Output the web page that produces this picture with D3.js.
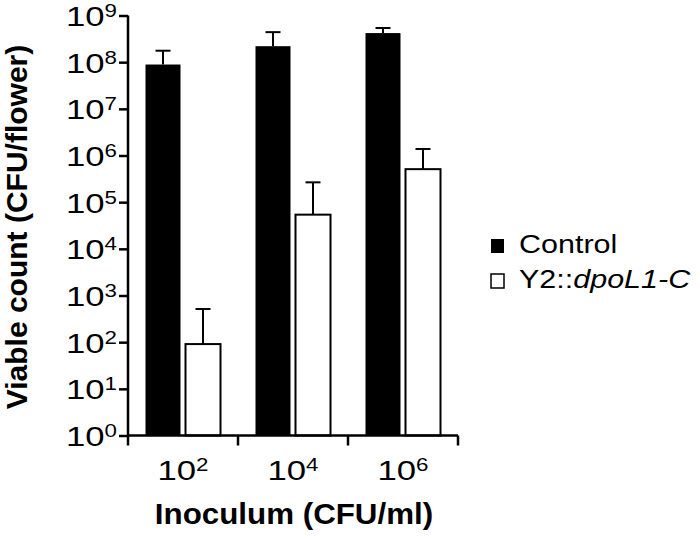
<!DOCTYPE html>
<html><head><meta charset="utf-8">
<script src="https://cdn.jsdelivr.net/npm/d3@7"></script>
<style>
body{margin:0;background:#fff;}
text{font-family:"Liberation Sans",Arial,sans-serif;}
</style></head>
<body>
<svg id="chart" width="700" height="538"></svg>
<script>
const categories = ["2", "4", "6"];           // inoculum exponent labels 10^2,10^4,10^6
const series = ["Control", "Y2::dpoL1-C"];
const controlMean = [8.9e7, 2.2e8, 4.2e8];
const controlErrTop = [1.76e8, 4.4e8, 5.4e8];
const mutantMean = [91, 5.4e4, 5.1e5];
const mutantErrTop = [513, 2.66e5, 1.38e6];
const yTickExponents = [0,1,2,3,4,5,6,7,8,9];

(function(){
const svg = d3.select("#chart");
const mLeft = 128, mRight = 458, mTop = 15.5, mBottom = 435.5;
const stretch = 1.24;

const y = d3.scaleLog().domain([1, 1e9]).range([mBottom, mTop]);
const x = d3.scaleBand().domain(categories).range([mLeft, mRight]).padding(0);
const xs = d3.scaleBand().domain(series).range([0, x.bandwidth()]).paddingInner(0.125).paddingOuter(0.4375);

const data = categories.map((c, i) => [
  {cat: c, s: series[0], v: controlMean[i], e: controlErrTop[i]},
  {cat: c, s: series[1], v: mutantMean[i], e: mutantErrTop[i]}
]).flat();

// bars
svg.append("g").selectAll("rect").data(data).join("rect")
  .attr("x", d => x(d.cat) + xs(d.s))
  .attr("y", d => y(d.v))
  .attr("width", xs.bandwidth())
  .attr("height", d => y(1) - y(d.v))
  .attr("fill", d => d.s === series[0] ? "#000" : "#fff")
  .attr("stroke", "#000")
  .attr("stroke-width", d => d.s === series[0] ? 0 : 2);

// error bars
const eb = svg.append("g").attr("stroke", "#000").attr("stroke-width", 2);
eb.selectAll("line.v").data(data).join("line").attr("class","v")
  .attr("x1", d => x(d.cat) + xs(d.s) + xs.bandwidth()/2)
  .attr("x2", d => x(d.cat) + xs(d.s) + xs.bandwidth()/2)
  .attr("y1", d => y(d.v)).attr("y2", d => y(d.e));
eb.selectAll("line.c").data(data).join("line").attr("class","c")
  .attr("x1", d => x(d.cat) + xs(d.s) + xs.bandwidth()/2 - 7.5)
  .attr("x2", d => x(d.cat) + xs(d.s) + xs.bandwidth()/2 + 7.5)
  .attr("y1", d => y(d.e)).attr("y2", d => y(d.e));

// y axis
const yAxis = svg.append("g").attr("transform", `translate(${mLeft},0)`)
  .call(d3.axisLeft(y).tickValues(yTickExponents.map(e => Math.pow(10, e))).tickSize(9).tickPadding(10).tickFormat(""));
yAxis.select(".domain").attr("stroke-width", 2.5).attr("d", `M0,${mTop}V${mBottom}`);
yAxis.selectAll(".tick line").attr("stroke-width", 2.5);
yAxis.selectAll(".tick").each(function(d) {
  const t = d3.select(this).append("g").attr("transform", `translate(-11,10) scale(${stretch},1)`)
    .append("text").attr("fill", "#000").attr("font-size", 28).attr("text-anchor", "end");
  t.append("tspan").text("10");
  t.append("tspan").attr("font-size", 18).attr("dy", -9).text(Math.round(Math.log10(d)));
});

// x axis
const xAxis = svg.append("g").attr("transform", `translate(0,${mBottom})`)
  .call(d3.axisBottom(x).tickSize(0).tickFormat(""));
xAxis.select(".domain").attr("stroke-width", 2.5).attr("d", `M${mLeft},0H${mRight}`);
const bounds = [x.range()[0], ...categories.map(c => x(c) + x.bandwidth())];
xAxis.selectAll("line.b").data(bounds).join("line").attr("class","b")
  .attr("x1", d => d).attr("x2", d => d).attr("y1", 0).attr("y2", 10)
  .attr("stroke", "#000").attr("stroke-width", 2.5);
xAxis.selectAll("g.lab").data(categories).join("g").attr("class","lab")
  .attr("transform", d => `translate(${x(d) + x.bandwidth()/2},44.5) scale(${stretch},1)`)
  .append("text").attr("text-anchor", "middle").attr("font-size", 28).attr("fill", "#000")
  .each(function(d) {
    const t = d3.select(this);
    t.append("tspan").text("10");
    t.append("tspan").attr("font-size", 18).attr("dy", -9).text(d);
  });

// axis titles
svg.append("g").attr("transform", "translate(294,524) scale(1.08,1)")
  .append("text").attr("text-anchor", "middle")
  .attr("font-size", 29).attr("font-weight", "bold").text("Inoculum (CFU/ml)");
svg.append("text").attr("transform", `translate(27,227) rotate(-90)`).attr("text-anchor", "middle")
  .attr("font-size", 30).attr("font-weight", "bold").text("Viable count (CFU/flower)");

// legend
series.forEach((s, i) => {
  const by = 253 + i * 35;
  svg.append("rect").attr("x", 491).attr("y", by - 14).attr("width", 13).attr("height", 14)
    .attr("fill", i === 0 ? "#000" : "#fff").attr("stroke", "#000").attr("stroke-width", i === 0 ? 0 : 1.5);
  const t = svg.append("g").attr("transform", `translate(519,${by}) scale(1.22,1)`)
    .append("text").attr("font-size", 25).attr("fill", "#000");
  if (i === 0) t.text(s);
  else {
    const parts = s.split("::");
    t.append("tspan").text(parts[0] + "::");
    t.append("tspan").attr("font-style", "italic").text(parts[1]);
  }
});
})();
</script>
</body></html>
